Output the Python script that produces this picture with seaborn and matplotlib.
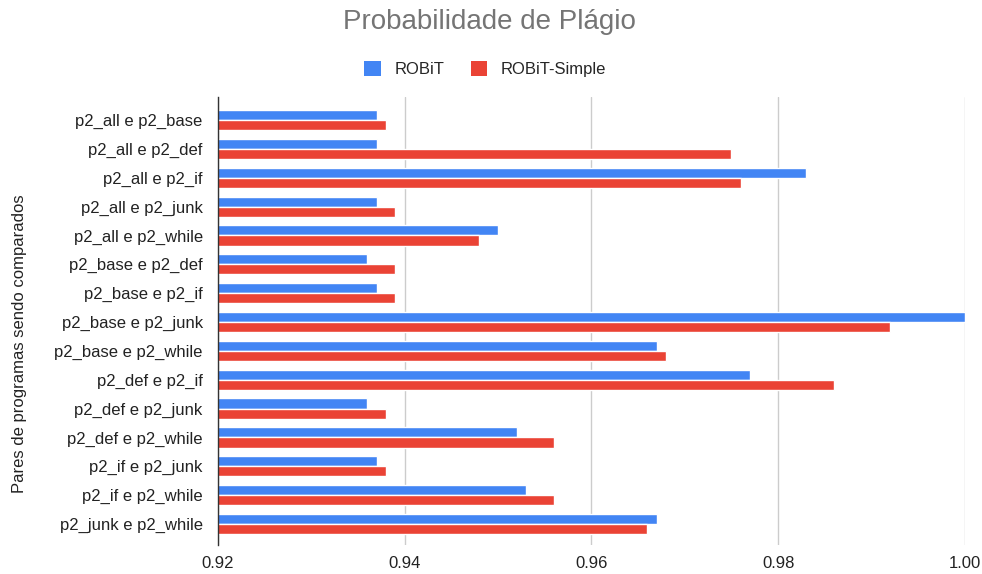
import matplotlib
matplotlib.use("Agg")
import matplotlib.pyplot as plt
from matplotlib.patches import Patch
import seaborn as sns
import pandas as pd

pares = [
    "p2_all e p2_base", "p2_all e p2_def", "p2_all e p2_if", "p2_all e p2_junk",
    "p2_all e p2_while", "p2_base e p2_def", "p2_base e p2_if", "p2_base e p2_junk",
    "p2_base e p2_while", "p2_def e p2_if", "p2_def e p2_junk", "p2_def e p2_while",
    "p2_if e p2_junk", "p2_if e p2_while", "p2_junk e p2_while",
]
robit = [0.937, 0.937, 0.983, 0.937, 0.950, 0.936, 0.937, 1.000,
         0.967, 0.977, 0.936, 0.952, 0.937, 0.953, 0.967]
robit_simple = [0.938, 0.975, 0.976, 0.939, 0.948, 0.939, 0.939, 0.992,
                0.968, 0.986, 0.938, 0.956, 0.938, 0.956, 0.966]
series = ["ROBiT", "ROBiT-Simple"]
x_ticks = [0.92, 0.94, 0.96, 0.98, 1.00]

df = pd.DataFrame({
    "par": pares * 2,
    "serie": [series[0]] * len(pares) + [series[1]] * len(pares),
    "valor": robit + robit_simple,
})

sns.set_theme(style="white")
plt.rcParams["font.family"] = ["Liberation Sans", "DejaVu Sans"]

fig = plt.figure(figsize=(9.82, 5.74), dpi=100)
ax = fig.add_axes([0.222, 0.0505, 0.7605, 0.7805])

cores = {"ROBiT": "#4285F4", "ROBiT-Simple": "#EA4335"}
sns.barplot(data=df, y="par", x="valor", hue="serie", orient="h",
            palette=cores, width=0.7, gap=0, order=pares, hue_order=series,
            saturation=1, ax=ax, legend=False)

ax.set_xlim(0.92, 1.0)
ax.set_ylim(14.73, -0.8)
ax.set_xticks(x_ticks)
ax.set_xticklabels([f"{v:.2f}" for v in x_ticks], fontsize=12, color="#222222")
ax.tick_params(axis="y", labelsize=12, labelcolor="#222222", length=0, pad=11)
ax.tick_params(axis="x", length=0, pad=8)
ax.xaxis.grid(True, color="#cccccc", linewidth=1)
ax.set_axisbelow(True)
for s in ["top", "right", "bottom"]:
    ax.spines[s].set_visible(False)
ax.spines["left"].set_color("#333333")
ax.spines["left"].set_linewidth(1)
ax.set_xlabel("")
ax.set_ylabel("Pares de programas sendo comparados", fontsize=12,
              color="#222222")
ax.yaxis.set_label_coords(-0.256, 0.45)

fig.text(0.498, 0.962, "Probabilidade de Plágio", ha="center", va="center",
         fontsize=20, color="#757575")

handles = [Patch(facecolor=cores[s], edgecolor="none") for s in series]
fig.legend(handles, series, loc="center", bbox_to_anchor=(0.494, 0.88),
           ncol=2, frameon=False, fontsize=12, handlelength=1.0,
           handleheight=1.0, handletextpad=0.8, columnspacing=1.6)

fig.savefig("out.png", dpi=100)
